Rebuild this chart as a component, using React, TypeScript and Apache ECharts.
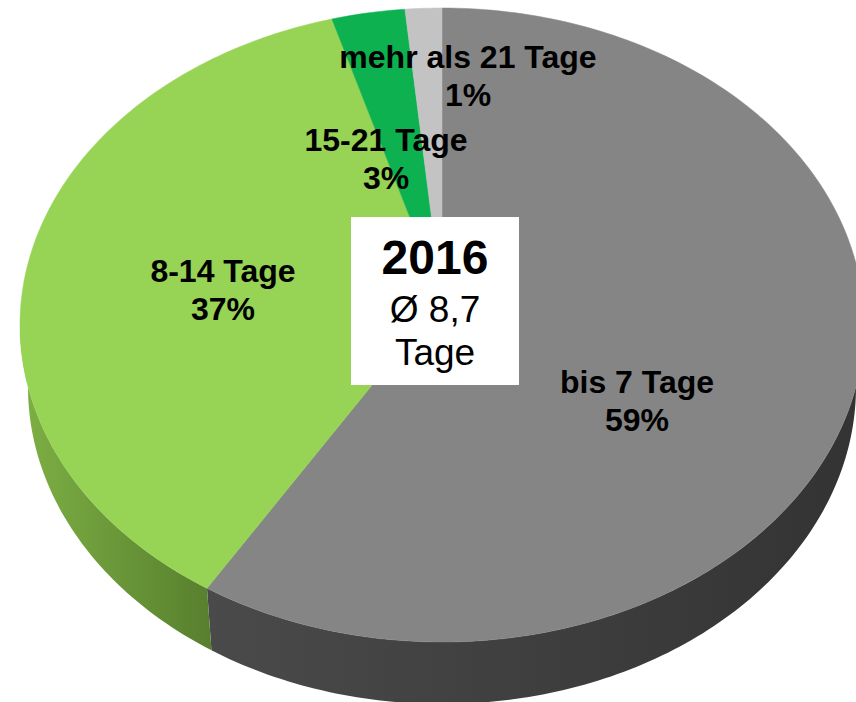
import React, { useEffect, useRef } from "react";
import * as echarts from "echarts";

const categories = ["bis 7 Tage", "8-14 Tage", "15-21 Tage", "mehr als 21 Tage"];
const percentLabels = ["59%", "37%", "3%", "1%"];
const sliceShares = [59.4, 36.4, 2.8, 1.4];
const faceColors = ["#858585", "#97D355", "#0DB14F", "#C3C3C3"];
const sideStops = [
  ["#4A4A4A", "#333333"],
  ["#7DB044", "#587F2E"],
  ["#0A8A3D", "#0A8A3D"],
  ["#8E8E8E", "#8E8E8E"],
];
const labelCenters = [
  [637, 401],
  [223, 290],
  [386, 159],
  [468, 76],
];
const boxYear = "2016";
const boxAverage = "Ø 8,7";
const boxUnit = "Tage";

const FACE = { cx: 442, cy: 325, rx: 422, ry: 317 };
const BASE = { cx: 442, cy: 387, rx: 414, ry: 317 };
const APEX: [number, number] = [442, 299];
const FONT = '"Liberation Sans", Arial, sans-serif';

function pt(e: typeof FACE, deg: number): [number, number] {
  const t = (deg * Math.PI) / 180;
  return [e.cx + e.rx * Math.sin(t), e.cy - e.ry * Math.cos(t)];
}

function arc(e: typeof FACE, a: number, b: number): [number, number][] {
  const n = Math.max(2, Math.ceil(Math.abs(b - a)));
  const out: [number, number][] = [];
  for (let i = 0; i <= n; i++) out.push(pt(e, a + ((b - a) * i) / n));
  return out;
}

function sliceRange(i: number): [number, number] {
  const total = sliceShares.reduce((s, v) => s + v, 0);
  let before = 0;
  for (let k = 0; k < i; k++) before += sliceShares[k];
  return [(before / total) * 360, ((before + sliceShares[i]) / total) * 360];
}

export default function App() {
  const ref = useRef<HTMLDivElement>(null);
  useEffect(() => {
    const chart = echarts.init(ref.current!, null, { renderer: "svg" });
    const data = categories.map((name, i) => ({ name, value: sliceShares[i] }));
    chart.setOption({
      animation: false,
      backgroundColor: "#ffffff",
      series: [
        {
          type: "custom",
          coordinateSystem: "none",
          z: 1,
          silent: true,
          data,
          renderItem: (p: any) => {
            const i = p.dataIndex;
            const [a0, a1] = sliceRange(i);
            const a = Math.max(a0, 90);
            const b = Math.min(a1, 270);
            if (b <= a) return { type: "group", children: [] };
            const top = arc(FACE, a, b);
            const bottom = arc(BASE, b, a);
            const xs = [...top, ...bottom].map((q) => q[0]);
            const x0 = Math.min(...xs);
            const x1 = Math.max(...xs);
            return {
              type: "polygon",
              shape: { points: [...top, ...bottom] },
              style: {
                fill: new echarts.graphic.LinearGradient(
                  x0, 0, x1, 0,
                  [
                    { offset: 0, color: sideStops[i][0] },
                    { offset: 1, color: sideStops[i][1] },
                  ],
                  true
                ),
              },
            };
          },
        },
        {
          type: "custom",
          coordinateSystem: "none",
          z: 2,
          silent: true,
          data,
          renderItem: (p: any) => {
            const i = p.dataIndex;
            const [a0, a1] = sliceRange(i);
            return {
              type: "polygon",
              shape: { points: [APEX, ...arc(FACE, a0, a1)] },
              style: { fill: faceColors[i], stroke: faceColors[i], lineWidth: 0.5 },
            };
          },
        },
        {
          type: "custom",
          coordinateSystem: "none",
          z: 3,
          silent: true,
          data,
          renderItem: (p: any) => {
            const i = p.dataIndex;
            return {
              type: "text",
              style: {
                text: categories[i] + "\n" + percentLabels[i],
                x: labelCenters[i][0],
                y: labelCenters[i][1],
                align: "center",
                verticalAlign: "middle",
                font: `bold 32px ${FONT}`,
                lineHeight: 37.5,
                fill: "#000000",
              },
            };
          },
        },
      ],
      graphic: [
        { type: "rect", z: 100, shape: { x: 351, y: 217, width: 168, height: 168 }, style: { fill: "#ffffff" } },
        {
          type: "text", z: 101,
          style: { text: boxYear, x: 435, y: 257, align: "center", verticalAlign: "middle", font: `bold 48px ${FONT}`, fill: "#000" },
        },
        {
          type: "text", z: 101,
          style: { text: boxAverage, x: 435, y: 309, align: "center", verticalAlign: "middle", font: `37px ${FONT}`, fill: "#000" },
        },
        {
          type: "text", z: 101,
          style: { text: boxUnit, x: 435, y: 352, align: "center", verticalAlign: "middle", font: `37px ${FONT}`, fill: "#000" },
        },
      ],
    });
    return () => chart.dispose();
  }, []);
  return <div ref={ref} style={{ position: "absolute", left: 0, top: 0, width: 856, height: 702 }} />;
}
